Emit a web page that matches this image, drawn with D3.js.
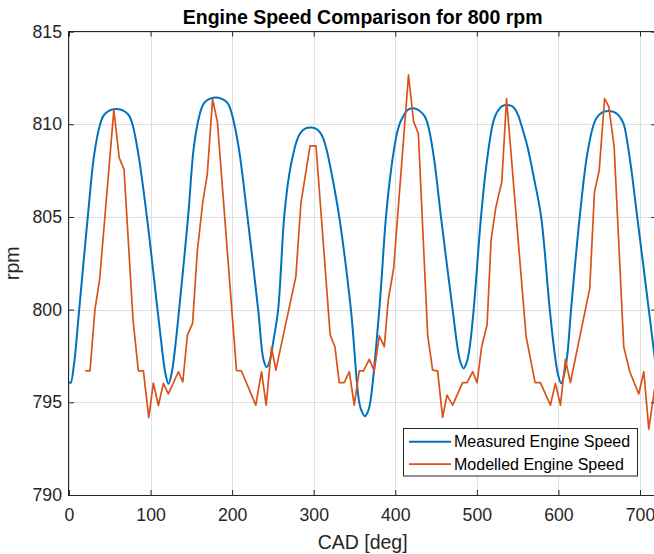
<!DOCTYPE html>
<html>
<head>
<meta charset="utf-8">
<script src="https://cdn.jsdelivr.net/npm/d3@7/dist/d3.min.js"></script>
<style>
  html, body { margin: 0; padding: 0; background: #fff; }
  svg { display: block; font-family: "Liberation Sans", Arial, Helvetica, sans-serif; }
</style>
</head>
<body>
<svg id="chart" width="654" height="554"></svg>
<script>
// Crank angle (deg) and engine speed (rpm) of the measured trace
const measuredCad = [0, 2, 6, 12.5, 23, 31, 38, 42, 46, 52, 58, 64, 70, 74, 78, 85, 95.5, 108.5, 114, 118, 122, 126, 130, 135, 146, 153, 160, 164, 168, 174, 180, 186, 192, 196, 200, 208, 218.8, 231.9, 238.5, 242.5, 246.5, 250.5, 256.4, 263.8, 270, 276, 280, 284, 290, 296, 302, 308, 312, 316, 323, 331.3, 345.6, 355.8, 359.5, 362.8, 366, 369.3, 380.4, 388.6, 395, 402, 406, 410, 415, 421.3, 427, 433, 437, 441, 448, 456, 470.3, 476.5, 480, 483.8, 487.5, 491, 496.1, 505.1, 512, 519.4, 523, 527, 531, 537, 543, 547, 551, 554.2, 562, 570, 578.8, 589.4, 595.5, 599.5, 603.3, 607, 611, 615.5, 626.1, 635, 643.3, 647, 651, 656, 661.8, 667, 672, 676, 680.1, 688, 696.6, 710.8, 720];
const measuredRpm = [796.1, 796.05, 797.0, 800, 805, 808.4, 809.97, 810.44, 810.64, 810.78, 810.82, 810.78, 810.64, 810.44, 809.97, 808.4, 805, 800, 797.9, 796.6, 796.0, 796.6, 797.9, 800, 805, 808.75, 810.5, 811.03, 811.25, 811.4, 811.45, 811.4, 811.25, 811.03, 810.5, 808.75, 805, 800, 797.3, 796.9, 797.3, 798.3, 800, 805, 807.3, 808.6, 809.2, 809.55, 809.78, 809.83, 809.78, 809.55, 809.2, 808.6, 807.1, 805, 800, 795, 794.45, 794.25, 794.45, 795, 800, 805, 807.6, 809.5, 810.1, 810.45, 810.77, 810.87, 810.8, 810.6, 810.35, 809.8, 808.0, 805, 800, 797.9, 797.15, 796.83, 797.15, 797.9, 800, 805, 807.9, 810, 810.5, 810.8, 810.98, 811.04, 810.98, 810.8, 810.45, 810.0, 808.8, 807.1, 805, 800, 797.6, 796.5, 796.02, 796.5, 797.6, 800, 805, 808.3, 810, 810.35, 810.55, 810.68, 810.72, 810.68, 810.55, 810.35, 810, 808, 805, 800, 796.7];

// Crank angle (deg) and engine speed (rpm) of the model output
const modelCad = [19.8, 25.8, 31.8, 37.5, 55.0, 61.5, 67.5, 78.5, 85.0, 91.2, 97.8, 103.4, 109.6, 115.7, 121.8, 134.1, 139.5, 145.2, 151.5, 157.4, 164.0, 169.5, 176.0, 182.0, 205.3, 211.4, 229.0, 236.0, 241.7, 248.3, 253.6, 278.1, 284.3, 295.5, 302.8, 320.2, 326.0, 331.3, 337.4, 343.6, 349.7, 355.8, 361.1, 368.1, 374.2, 380.4, 386.5, 391.4, 398.0, 416.2, 422.5, 428.3, 439.7, 445.8, 451.9, 458.0, 463.4, 470.3, 482.6, 488.0, 494.9, 500.3, 505.9, 512.5, 517.5, 523.2, 530.6, 536.4, 560.4, 571.4, 577.9, 590.2, 596.3, 602.5, 608.6, 614.7, 638.4, 644.2, 650.0, 656.6, 661.8, 668.3, 680.1, 687.5, 698.5, 704.7, 710.8, 717.8, 720];
const modelRpm = [796.7, 796.7, 800.0, 801.6, 810.78, 808.2, 807.55, 799.45, 796.7, 796.7, 794.17, 796.04, 794.83, 796.02, 795.46, 796.65, 796.1, 798.63, 799.26, 803.2, 805.8, 807.3, 811.35, 810.1, 796.72, 796.69, 794.85, 796.65, 794.85, 797.97, 796.74, 801.78, 805.74, 808.83, 808.83, 798.63, 798.0, 796.06, 796.06, 796.65, 794.85, 796.7, 796.7, 797.32, 796.7, 798.58, 798.0, 800.52, 802.23, 812.66, 810.14, 809.5, 798.63, 796.74, 796.7, 794.19, 795.39, 794.85, 796.06, 796.06, 796.65, 796.06, 798.0, 799.17, 803.76, 805.5, 806.9, 811.38, 798.54, 796.06, 796.06, 794.85, 796.02, 794.85, 797.32, 796.06, 801.15, 806.35, 807.5, 811.38, 810.95, 808.79, 798.0, 796.65, 795.45, 796.65, 793.55, 795.7, 796.1];

const xTicks = [0, 100, 200, 300, 400, 500, 600, 700];
const yTicks = [790, 795, 800, 805, 810, 815];
const seriesNames = ["Measured Engine Speed", "Modelled Engine Speed"];
const titleText = "Engine Speed Comparison for 800 rpm";
const xLabel = "CAD [deg]";
const yLabel = "rpm";

const colors = ["#0072BD", "#D95319"];
const axisColor = "#262626";

const svg = d3.select("#chart");
const plotLeft = 69, plotRight = 656.3, plotTop = 31.6, plotBottom = 495;

const x = d3.scaleLinear().domain([0, 720]).range([plotLeft, plotRight]);
const y = d3.scaleLinear().domain([790, 815]).range([plotBottom, plotTop]);

// grid
const grid = svg.append("g").attr("stroke", "#dfdfdf").attr("stroke-width", 1);
xTicks.forEach(t => grid.append("line")
  .attr("x1", Math.round(x(t)) + 0.5).attr("x2", Math.round(x(t)) + 0.5)
  .attr("y1", plotTop).attr("y2", plotBottom));
yTicks.forEach(t => grid.append("line")
  .attr("x1", plotLeft).attr("x2", plotRight)
  .attr("y1", Math.round(y(t)) + 0.5).attr("y2", Math.round(y(t)) + 0.5));

// clip region for the data lines
svg.append("defs").append("clipPath").attr("id", "plotClip")
  .append("rect").attr("x", plotLeft).attr("y", plotTop)
  .attr("width", plotRight - plotLeft).attr("height", plotBottom - plotTop);

const measured = measuredCad.map((c, i) => [c, measuredRpm[i]]);
const modelled = modelCad.map((c, i) => [c, modelRpm[i]]);

const smoothLine = d3.line().x(d => x(d[0])).y(d => y(d[1])).curve(d3.curveCatmullRom.alpha(0.5));
const rawLine = d3.line().x(d => x(d[0])).y(d => y(d[1]));

const plot = svg.append("g").attr("clip-path", "url(#plotClip)");
plot.append("path").datum(measured)
  .attr("d", smoothLine).attr("fill", "none")
  .attr("stroke", colors[0]).attr("stroke-width", 2).attr("stroke-linejoin", "round");
plot.append("path").datum(modelled)
  .attr("d", rawLine).attr("fill", "none")
  .attr("stroke", colors[1]).attr("stroke-width", 1.7).attr("stroke-linejoin", "round");

// axes with inward ticks
function styleAxis(g, fontSize) {
  g.select(".domain").remove();
  g.selectAll(".tick line").attr("stroke", axisColor);
  g.selectAll(".tick text").attr("fill", axisColor)
    .attr("font-size", fontSize).attr("font-family", "Liberation Sans, Arial, sans-serif");
}
svg.append("g").attr("transform", `translate(0,${plotBottom})`)
  .call(d3.axisBottom(x).tickValues(xTicks).tickSizeInner(-5).tickSizeOuter(0).tickPadding(13))
  .call(g => styleAxis(g, "17.7px"));
svg.append("g").attr("transform", `translate(${plotLeft},0)`)
  .call(d3.axisLeft(y).tickValues(yTicks).tickSizeInner(-5).tickSizeOuter(0).tickPadding(7))
  .call(g => styleAxis(g, "17.7px"));
svg.append("g").attr("transform", `translate(0,${plotTop})`)
  .call(d3.axisTop(x).tickValues(xTicks).tickSizeInner(-5).tickSizeOuter(0).tickFormat(""))
  .call(g => styleAxis(g, "0px"));
svg.append("g").attr("transform", `translate(${plotRight},0)`)
  .call(d3.axisRight(y).tickValues(yTicks).tickSizeInner(-5).tickSizeOuter(0).tickFormat(""))
  .call(g => styleAxis(g, "0px"));

// box
svg.append("rect")
  .attr("x", plotLeft - 0.5).attr("y", Math.round(plotTop) - 0.5)
  .attr("width", plotRight - plotLeft + 0.5).attr("height", Math.round(plotBottom) - Math.round(plotTop) + 1)
  .attr("fill", "none").attr("stroke", axisColor).attr("stroke-width", 1);

// title and labels
svg.append("text").attr("x", (plotLeft + plotRight) / 2).attr("y", 24)
  .attr("text-anchor", "middle").attr("font-weight", "bold").attr("font-size", "19.5px")
  .attr("fill", "#000").text(titleText);
svg.append("text").attr("x", (plotLeft + plotRight) / 2).attr("y", 549)
  .attr("text-anchor", "middle").attr("font-size", "19.5px").attr("fill", axisColor).text(xLabel);
svg.append("text").attr("transform", `translate(19,${(plotTop + plotBottom) / 2}) rotate(-90)`)
  .attr("text-anchor", "middle").attr("font-size", "19.5px").attr("fill", axisColor).text(yLabel);

// legend
const lg = svg.append("g");
lg.append("rect").attr("x", 403.5).attr("y", 428.5).attr("width", 234).attr("height", 47.5)
  .attr("fill", "#fff").attr("stroke", axisColor).attr("stroke-width", 1);
seriesNames.forEach((name, i) => {
  const cy = 441.7 + i * 22.5;
  lg.append("line").attr("x1", 409).attr("x2", 451).attr("y1", cy).attr("y2", cy)
    .attr("stroke", colors[i]).attr("stroke-width", i === 0 ? 2 : 1.7);
  lg.append("text").attr("x", 454).attr("y", cy).attr("dy", "0.35em")
    .attr("font-size", "16px").attr("fill", "#000").text(name);
});
</script>
</body>
</html>
